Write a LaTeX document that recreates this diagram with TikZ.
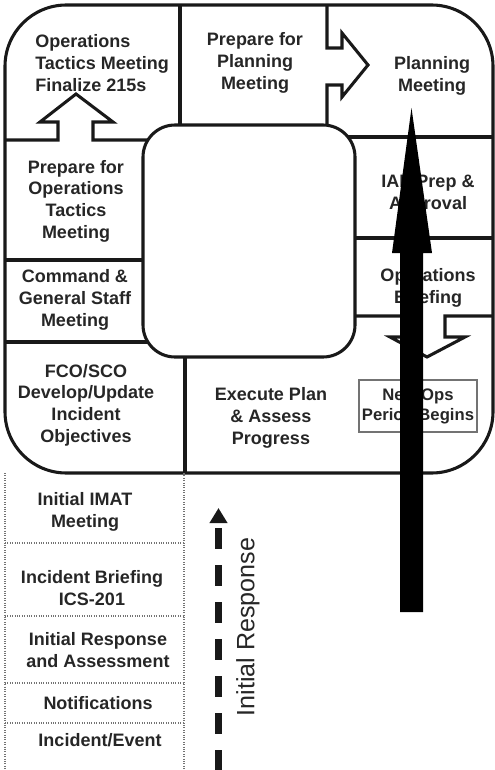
\documentclass[tikz,border=0pt]{standalone}
\usepackage{fontspec}
\setmainfont{Liberation Sans}
\usepackage{tikz}
\usetikzlibrary{arrows.meta}

\begin{document}
\begin{tikzpicture}[x=0.75pt, y=-0.75pt,
	cell/.style={align=center, inner sep=0pt, text=black!85, font=\bfseries\fontsize{13.5}{16.3}\selectfont},
	wall/.style={draw=black!90, line width=2.3pt, line join=miter},
	faint/.style={draw=black!55, line width=0.8pt, densely dotted}]

\useasboundingbox (0,0) rectangle (495,770);

%\draw[step=10, gray, very thin, dotted] (0,0) grid (495,770);

% the cycle and its hub
\draw[wall, rounded corners=46pt] (5,5) rectangle (493,473);
\draw[wall, rounded corners=24pt] (143,125) rectangle (355,357);

\draw[wall] (180,5) -- (180,125);
\draw[wall] (327,5) -- (327,48) -- (342,48) -- (342,33) -- (368,65) -- (342,97) -- (342,85) -- (327,85) -- (327,125);
\draw[wall] (348,137) -- (493,137);
\draw[wall] (355,238) -- (493,238);
\draw[wall] (355,316) -- (410,316) -- (410,337) -- (390,337) -- (427,357) -- (465,337) -- (445,337) -- (445,316) -- (493,316);
\draw[wall] (5,140) -- (58,140) -- (58,122) -- (40,122) -- (76,94) -- (113,122) -- (93,122) -- (93,140) -- (148,140);
\draw[wall] (5,260) -- (143,260);
\draw[wall] (5,342) -- (148,342);
\draw[wall] (185,357) -- (185,473);

\node at (35,63) [cell, align=left, anchor=west] (opstactics) {Operations\\Tactics Meeting\\Finalize 215s};
\node at (255,63) [cell] (prepplan) {Prepare for\\Planning\\Meeting};
\node at (432,76) [cell] (planmeet) {Planning\\Meeting};
\node at (76,201) [cell] (prepops) {Prepare for\\Operations\\Tactics\\Meeting};
\node at (75,300) [cell] (cgsmeet) {Command \&\\General Staff\\Meeting};
\node at (86,405) [cell] (fcosco) {FCO/SCO\\Develop/Update\\Incident\\Objectives};
\node at (271,418) [cell] (execplan) {Execute Plan\\\& Assess\\Progress};
\node at (428,194) [cell] (iapprep) {IAP Prep \&\\Approval};
\node at (428,288) [cell] (opsbrief) {Operations\\Briefing};
\node at (418,406) [cell, draw=black!55, line width=0.8pt, minimum width=88.5pt, minimum height=39pt, font=\bfseries\fontsize{12.5}{15}\selectfont] (newops) {New Ops\\Period Begins};

% initial response steps
\draw[faint] (5,473) -- (5,770);
\draw[faint] (184,473) -- (184,770);
\draw[faint] (5,543) -- (184,543);
\draw[faint] (5,616) -- (184,616);
\draw[faint] (5,683) -- (184,683);
\draw[faint] (5,723) -- (184,723);

\node at (85,512) [cell] (imatmeet) {Initial IMAT\\Meeting};
\node at (92,588) [cell] (incbrief) {Incident Briefing\\ICS-201};
\node at (98,650) [cell] (initresp) {Initial Response\\and Assessment};
\node at (98,703) [cell] (notif) {Notifications};
\node at (100,740) [cell] (incevent) {Incident/Event};

\coordinate (irfoot) at (218.5,770);
\coordinate (irtip) at (218.5,508);
\draw[black!90, line width=5.25pt, dash pattern=on 15.4pt off 12.4pt, dash phase=23.3pt, {Triangle[length=11.25pt, width=12.75pt]}-] (irtip) -- (irfoot);
\node at (248,627) [rotate=90, inner sep=0pt, text=black!85, font=\fontsize{18.8}{22}\selectfont] (irlabel) {Initial Response};

% big arrow
\fill[black] (400,612) -- (400,253) -- (392,253) -- (411.5,108) -- (432,253) -- (423,253) -- (423,612) -- cycle;

\end{tikzpicture}
\end{document}
